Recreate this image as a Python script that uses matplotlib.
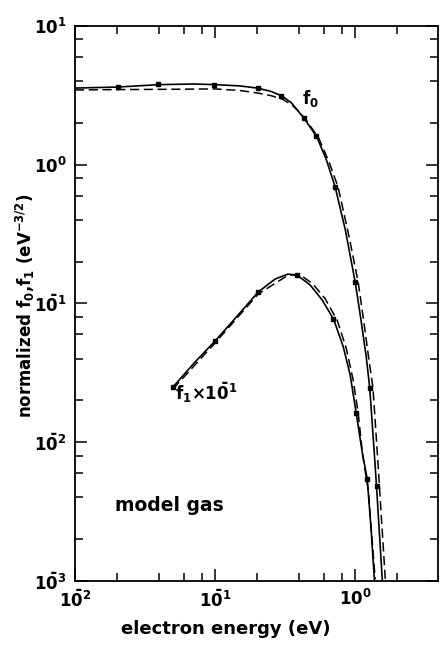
import matplotlib
matplotlib.use('Agg')
import matplotlib.pyplot as plt
from matplotlib.ticker import LogLocator, NullFormatter, FuncFormatter
import numpy as np

plt.rcParams['font.family'] = ['DejaVu Sans']
plt.rcParams['font.weight'] = 'bold'
plt.rcParams['mathtext.default'] = 'bf'

# f0 curves (solid = line with points, dashed = second calculation)
f0_x = [0.01, 0.02, 0.04, 0.07, 0.1, 0.15, 0.2, 0.25, 0.3, 0.35, 0.43, 0.53,
        0.62, 0.72, 0.85, 1.0, 1.1, 1.2, 1.27, 1.38, 1.42, 1.56]
f0_y = [3.57, 3.63, 3.78, 3.82, 3.78, 3.70, 3.57, 3.38, 3.13, 2.80, 2.17, 1.60,
        1.10, 0.69, 0.34, 0.143, 0.076, 0.041, 0.0246, 0.0074, 0.0048, 0.00103]
f0d_x = [0.01, 0.02, 0.05, 0.1, 0.15, 0.2, 0.25, 0.3, 0.35, 0.4, 0.45, 0.55,
         0.65, 0.755, 0.9, 1.05, 1.15, 1.25, 1.34, 1.45, 1.64]
f0d_y = [3.46, 3.48, 3.50, 3.52, 3.43, 3.29, 3.15, 2.98, 2.72, 2.40, 2.08, 1.55,
         1.05, 0.69, 0.31, 0.143, 0.075, 0.040, 0.0246, 0.0074, 0.00103]
f0_px = [0.0203, 0.039, 0.098, 0.203, 0.296, 0.432, 0.526, 0.72, 1.0, 1.27, 1.44]
f0_py = [3.63, 3.82, 3.76, 3.57, 3.13, 2.17, 1.61, 0.69, 0.143, 0.0246, 0.0048]

# f1 x 10^-1 curves
f1_x = [0.05, 0.072, 0.1, 0.132, 0.203, 0.268, 0.332, 0.385, 0.477, 0.581,
        0.70, 0.821, 0.921, 1.016, 1.122, 1.22, 1.30, 1.37]
f1_y = [0.025, 0.0379, 0.0537, 0.0736, 0.121, 0.150, 0.163, 0.160, 0.136,
        0.106, 0.0773, 0.0490, 0.0305, 0.0163, 0.0085, 0.0054, 0.00233, 0.00103]
f1d_x = [0.05, 0.1, 0.203, 0.332, 0.405, 0.50, 0.611, 0.743, 0.863, 0.967,
         1.05, 1.13, 1.24, 1.32, 1.39]
f1d_y = [0.0242, 0.052, 0.117, 0.160, 0.161, 0.138, 0.108, 0.076, 0.0477,
         0.0281, 0.0163, 0.0081, 0.0045, 0.00197, 0.00103]
f1_px = [0.05, 0.1, 0.203, 0.385, 0.70, 1.016, 1.22]
f1_py = [0.025, 0.0537, 0.121, 0.160, 0.0773, 0.0163, 0.0054]


# old style labels: negative exponent shown as a bar over the 0
def exp_label(v, pos):
    e = int(round(np.log10(v)))
    if e < 0:
        return r'$1\bar{0}^{%d}$' % (-e)
    return r'$10^{%d}$' % e


fig = plt.figure(figsize=(4.4, 6.46), dpi=100)
ax = fig.add_axes([75/440, 1 - 581/646, 363/440, 555/646])

ax.plot(f0_x, f0_y, color='black', lw=1.2)
ax.plot(f0d_x, f0d_y, color='black', lw=1.1, dashes=(6, 3))
ax.plot(f0_px, f0_py, 's', color='black', ms=3.2)
ax.plot(f1_x, f1_y, color='black', lw=1.2)
ax.plot(f1d_x, f1d_y, color='black', lw=1.1, dashes=(6, 3))
ax.plot(f1_px, f1_py, 's', color='black', ms=3.2)

ax.set_xscale('log')
ax.set_yscale('log')
ax.set_xlim(0.01, 3.9)
ax.set_ylim(1e-3, 10)

# minor ticks only at 2,4,6,8 like the original
for axis in (ax.xaxis, ax.yaxis):
    axis.set_major_locator(LogLocator(base=10, numticks=10))
    axis.set_major_formatter(FuncFormatter(exp_label))
    axis.set_minor_locator(LogLocator(base=10, subs=(2, 4, 6, 8), numticks=10))
    axis.set_minor_formatter(NullFormatter())
ax.tick_params(which='both', direction='in', top=True, right=True, width=1.1)
ax.tick_params(which='major', length=8.5, labelsize=12, pad=6)
ax.tick_params(which='minor', length=5.5)
for s in ax.spines.values():
    s.set_linewidth(1.3)

# annotations
ax.text(0.42, 2.75, r'$f_0$', fontsize=12)
ax.text(0.0518, 0.0202, r'$f_1{\times}1\bar{0}^{1}$', fontsize=12)
ax.text(0.0193, 0.0032, 'model gas', fontsize=13.5)

fig.text(226/440, 1 - 629/646, 'electron energy (eV)', fontsize=13,
         ha='center', va='center')
fig.text(25/440, 1 - 306/646, r'normalized f$_0$,f$_1$ (eV$^{-3/2}$)',
         fontsize=12, rotation=90, ha='center', va='center')

fig.savefig('out.png', dpi=100)
